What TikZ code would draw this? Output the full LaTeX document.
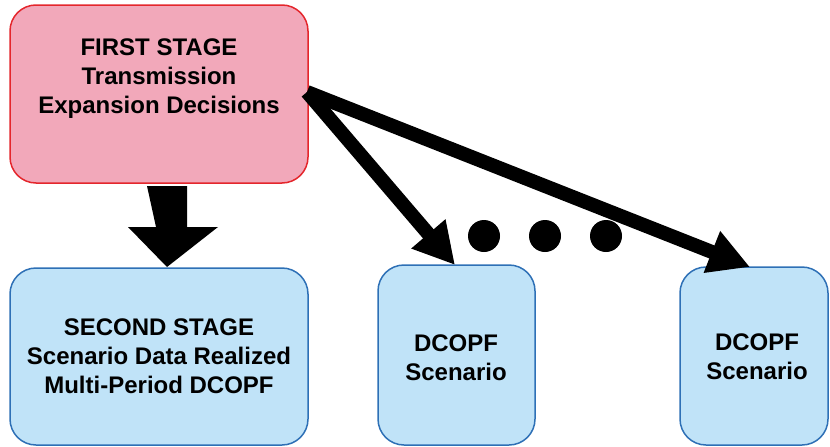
\documentclass[tikz,border=0pt]{standalone}
\usepackage{fontspec}
\setmainfont{Liberation Sans}
\usetikzlibrary{arrows.meta,calc}
\definecolor{pinkfill}{RGB}{242,168,186}
\definecolor{redline}{RGB}{228,38,44}
\definecolor{bluefill}{RGB}{192,227,248}
\definecolor{blueline}{RGB}{46,112,182}
\tikzset{
  stagebox/.style={draw, line width=1.5pt, rounded corners=26pt, inner sep=0pt},
  firstbox/.style={stagebox, fill=pinkfill, draw=redline},
  bluebox/.style={stagebox, fill=bluefill, draw=blueline},
  boxtext/.style={align=center, font=\fontsize{24}{29}\selectfont\bfseries, inner sep=0pt},
  bigarrow/.style={line width=14pt, -{Triangle[length=41pt,width=42pt]}},
  dot/.style={circle, fill=black, minimum size=32pt, inner sep=0pt}
}
\begin{document}
\begin{tikzpicture}[x=1pt,y=-1pt]
\useasboundingbox (0,0) rectangle (830,447);
% boxes
\node[firstbox, minimum width=298pt, minimum height=178pt] (first) at (159,94) {};
\node[bluebox, minimum width=298pt, minimum height=177pt] (second) at (159,356.5) {};
\node[bluebox, minimum width=157pt, minimum height=180pt] (s1) at (456.5,355) {};
\node[bluebox, minimum width=148pt, minimum height=178pt] (s2) at (754,356) {};
% texts
\node[boxtext] (firsttext) at (159,79) {FIRST STAGE\\Transmission\\Expansion Decisions};
\node[boxtext] (secondtext) at (159,356) {SECOND STAGE\\Scenario Data Realized\\Multi-Period DCOPF};
\node[boxtext] (s1text) at (456,358) {DCOPF\\Scenario};
\node[boxtext] (s2text) at (757,357) {DCOPF\\Scenario};
% block arrow down
\coordinate (ba) at (167,186);
\fill[black] (ba) ++(-20,0) -- ++(40,0) -- ++(0,41) -- ++(31,0) -- (167,267) -- ++(-39,-40) -- ++(28,0) -- cycle;
% diagonal arrows
\coordinate (src) at (307,92);
\draw[bigarrow] (src) -- (455,265) coordinate (t1);
\draw[bigarrow] (src) -- (750,267) coordinate (t2);
% dots
\node[dot] (d1) at (484,236) {};
\node[dot] (d2) at (545,236) {};
\node[dot] (d3) at (606,236) {};
\end{tikzpicture}
\end{document}
